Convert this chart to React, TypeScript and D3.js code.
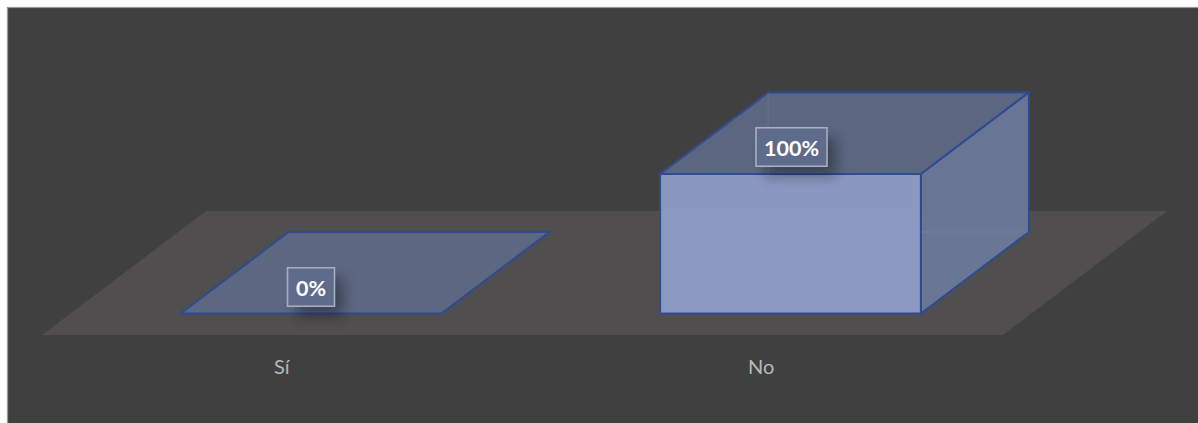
import React from "react";
import * as d3 from "d3";

const categories = ["Sí", "No"];
const shares = [0, 1];
const shareLabels = ["0%", "100%"];

const WIDTH = 1198;
const HEIGHT = 423;

// Oblique projection of the floor plane and of the bars standing on it
const floorFront = 335;
const floorDepth = { dx: 164, dy: -124 };
const barInset = { dx: 29, dy: -21.5 };
const barDepth = { dx: 108, dy: -81.5 };

const xScale = d3.scaleBand<string>().domain(categories).range([42, 1001]).paddingInner(0.457).paddingOuter(0.2285);
const yScale = d3.scaleLinear().domain([0, 1]).range([floorFront + barInset.dy, 174]);

const poly = (pts: [number, number][]) => (d3.line()(pts) ?? "") + "Z";

const edge = "#2f4b8f";
const edgeWidth = 2.1;

function Bar({ cat, value, label }: { cat: string; value: number; label: string }) {
  const x0 = (xScale(cat) ?? 0) + barInset.dx;
  const x1 = x0 + xScale.bandwidth() + 0.5;
  const yb = yScale(0);
  const yt = yScale(value);
  const { dx, dy } = barDepth;
  const tall = value > 0;
  const labelW = tall ? 71 : 47;
  const labelH = 38.5;
  const cx = tall ? (x0 + x1) / 2 + 1 : (x0 + x1) / 2;
  const cy = tall ? 147 : 287;
  return (
    <g>
      <path d={poly([[x0, yt], [x1, yt], [x1 + dx, yt + dy], [x0 + dx, yt + dy]])} fill="#5d6987" fillOpacity={0.92} stroke={edge} strokeWidth={edgeWidth} strokeLinejoin="miter" />
      {tall && (
        <>
          <path d={poly([[x1, yt], [x1 + dx, yt + dy], [x1 + dx, yb + dy], [x1, yb]])} fill="#6c7a9c" fillOpacity={0.92} stroke={edge} strokeWidth={edgeWidth} strokeLinejoin="round" />
          <path d={poly([[x0, yt], [x1, yt], [x1, yb], [x0, yb]])} fill="#909ecb" fillOpacity={0.92} stroke={edge} strokeWidth={edgeWidth} strokeLinejoin="round" />
          {/* Hidden rear edges seen through the translucent faces */}
          <path
            d={`M${x0},${yb}L${x0 + dx},${yb + dy}L${x0 + dx},${yt + dy}M${x0 + dx},${yb + dy}L${x1 + dx},${yb + dy}`}
            fill="none"
            stroke="#7c8cc4"
            strokeOpacity={0.28}
            strokeWidth={1}
          />
        </>
      )}
      <rect x={cx - labelW / 2} y={cy - labelH / 2} width={labelW} height={labelH} fill="#000" fillOpacity={0.36} filter="url(#labelShadow)" transform="translate(9,10)" />
      <rect x={cx - labelW / 2} y={cy - labelH / 2} width={labelW} height={labelH} fill="#5f6b8b" stroke="#a9aebd" strokeWidth={1.6} />
      <text x={cx} y={cy + 8.5} textAnchor="middle" fontFamily="Lato" fontWeight={700} fontSize={21.5} fill="#ffffff">
        {label}
      </text>
    </g>
  );
}

export default function App() {
  const floorX0 = xScale.range()[0];
  const floorX1 = xScale.range()[1] + 2;
  return (
    <svg width={WIDTH} height={HEIGHT} style={{ position: "absolute", left: 0, top: 0, background: "#fff" }}>
      <defs>
        <filter id="labelShadow" x="-60%" y="-60%" width="220%" height="220%">
          <feGaussianBlur stdDeviation={7} />
        </filter>
      </defs>
      <rect x={7.5} y={7.5} width={WIDTH} height={HEIGHT} fill="#404040" stroke="#9a9a9a" strokeWidth={1.2} />
      <path
        d={poly([
          [floorX0, floorFront],
          [floorX1, floorFront],
          [floorX1 + floorDepth.dx, floorFront + floorDepth.dy],
          [floorX0 + floorDepth.dx, floorFront + floorDepth.dy],
        ])}
        fill="#504e4e"
      />
      {categories.map((c, i) => (
        <Bar key={c} cat={c} value={shares[i]} label={shareLabels[i]} />
      ))}
      {categories.map((c) => (
        <text key={c} x={(xScale(c) ?? 0) + xScale.bandwidth() / 2} y={374} textAnchor="middle" fontFamily="Lato" fontSize={20} fill="#b8b8b8">
          {c}
        </text>
      ))}
    </svg>
  );
}
